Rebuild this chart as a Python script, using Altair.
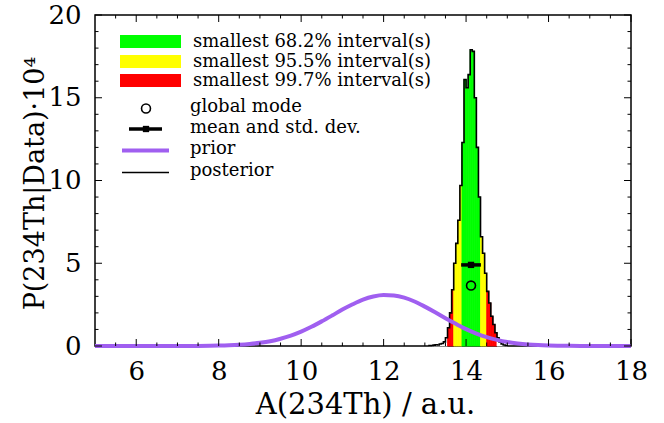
import altair as alt
import pandas as pd

# ---------------- data ----------------
# posterior histogram (bin lower edges, bin width 0.05, heights in units of 1e-4)
bin_lo = [13.10, 13.15, 13.20, 13.25, 13.30, 13.35, 13.40, 13.45, 13.50, 13.55,
          13.60, 13.65, 13.70, 13.75, 13.80, 13.85, 13.90, 13.95, 14.00, 14.05,
          14.10, 14.15, 14.20, 14.25, 14.30, 14.35, 14.40, 14.45, 14.50, 14.55,
          14.60, 14.65, 14.70, 14.75, 14.80, 14.85, 14.90, 14.95]
bin_width = 0.05
post_h = [0.02, 0.03, 0.05, 0.08, 0.06, 0.12, 0.15, 0.25, 0.5, 1.1,
          2.0, 3.4, 5.0, 6.2, 7.6, 9.7, 12.3, 16.1, 15.6, 16.4,
          17.9, 17.8, 15.0, 12.0, 9.0, 6.6, 5.6, 4.4, 3.3, 2.6,
          1.8, 1.3, 0.8, 0.5, 0.25, 0.12, 0.06, 0.03]

# smallest intervals (lower, upper)
int68 = (13.90, 14.35)
int95 = (13.70, 14.50)
int997 = (13.55, 14.75)

# prior
prior_x = [5.0, 5.5, 6.0, 6.5, 7.0, 7.5, 8.0, 8.25, 8.5, 8.75, 9.0, 9.25, 9.5, 9.75,
           10.0, 10.25, 10.5, 10.75, 11.0, 11.25, 11.5, 11.75, 12.0, 12.25, 12.5,
           12.75, 13.0, 13.25, 13.5, 13.75, 14.0, 14.25, 14.5, 14.75, 15.0, 15.25,
           15.5, 15.75, 16.0, 16.5, 17.0, 17.5, 18.0]
prior_y = [0.0, 0.0, 0.0, 0.0, 0.001, 0.006, 0.023, 0.041, 0.071, 0.118, 0.19, 0.29,
           0.44, 0.63, 0.87, 1.16, 1.49, 1.84, 2.20, 2.52, 2.80, 2.99, 3.08, 3.05,
           2.92, 2.69, 2.38, 2.04, 1.68, 1.34, 1.02, 0.75, 0.54, 0.37, 0.24, 0.155,
           0.095, 0.056, 0.032, 0.009, 0.002, 0.0, 0.0]

mean_val, std_val, mean_h = 14.12, 0.24, 4.9
mode_val, mode_h = 14.12, 3.65

x_major = [6, 8, 10, 12, 14, 16, 18]
x_minor = [5.5, 6.5, 7, 7.5, 8.5, 9, 9.5, 10.5, 11, 11.5, 12.5, 13, 13.5,
           14.5, 15, 15.5, 16.5, 17, 17.5]
y_major = [0, 5, 10, 15, 20]
y_minor = [1, 2, 3, 4, 6, 7, 8, 9, 11, 12, 13, 14, 16, 17, 18, 19]

legend_labels = ["smallest 68.2% interval(s)", "smallest 95.5% interval(s)",
                 "smallest 99.7% interval(s)", "global mode", "mean and std. dev.",
                 "prior", "posterior"]

GREEN, YELLOW, RED = "#00ff00", "#ffff00", "#ff0000"
PURPLE = "#a05ff0"
FONT = "DejaVu Serif"
W, H = 536, 331

# ---------------- tables ----------------
def band_of(lo):
    c = lo + bin_width / 2
    if int68[0] <= c <= int68[1]:
        return "68"
    if int95[0] <= c <= int95[1]:
        return "95"
    if int997[0] <= c <= int997[1]:
        return "99"
    return "out"

hist = pd.DataFrame({
    "lo": bin_lo,
    "hi": [b + bin_width for b in bin_lo],
    "h": post_h,
    "band": [band_of(b) for b in bin_lo],
})

step_x = [bin_lo[0]] + bin_lo + [bin_lo[-1] + bin_width]
step_y = [0.0] + post_h + [0.0]
step = pd.DataFrame({"x": step_x, "y": step_y, "i": list(range(len(step_x)))})

prior = pd.DataFrame({"x": prior_x, "y": prior_y})
stats = pd.DataFrame({"m": [mean_val], "lo": [mean_val - std_val],
                      "hi": [mean_val + std_val], "mh": [mean_h],
                      "mode": [mode_val], "modeh": [mode_h]})

xs = alt.Scale(domain=[5, 18], nice=False, zero=False)
ys = alt.Scale(domain=[0, 20], nice=False, zero=False)
band_scale = alt.Scale(domain=["68", "95", "99", "out"],
                       range=[GREEN, YELLOW, RED, "white"])

# ---------------- layers ----------------
bars = alt.Chart(hist).mark_bar(strokeWidth=0.8).encode(
    x=alt.X("lo:Q", scale=xs, axis=alt.Axis(
        title="A(234Th) / a.u.", values=x_major, format="d",
        ticks=False, tickSize=0, domain=False, grid=False,
        labelFontSize=26, labelPadding=12, labelFlush=False, labelOverlap=False,
        labelColor="black", titleFontSize=29, titleFontWeight="normal",
        titleColor="black", titleBaseline="alphabetic", titleY=67,
        titleX=W / 2 + 2, titleAlign="center")),
    x2="hi:Q",
    y=alt.Y("h:Q", scale=ys, axis=alt.Axis(
        title="P(234Th|Data)·10⁴", values=y_major, format="d",
        ticks=False, tickSize=0, domain=False, grid=False,
        labelFontSize=26, labelPadding=14, labelFlush=False, labelOverlap=False,
        labelColor="black", titleFontSize=27, titleFontWeight="normal",
        titleColor="black", titleAngle=270, titleBaseline="alphabetic",
        titleAlign="center", titleX=-52, titleY=168)),
    y2=alt.datum(0),
    color=alt.Color("band:N", legend=None, scale=band_scale),
    stroke=alt.Stroke("band:N", legend=None, scale=band_scale),
)

outline = alt.Chart(step).mark_line(interpolate="step-after", color="black",
                                    strokeWidth=1.6).encode(
    x=alt.X("x:Q", scale=xs), y=alt.Y("y:Q", scale=ys), order="i:Q")

prior_line = alt.Chart(prior).mark_line(color=PURPLE, strokeWidth=4,
                                        interpolate="monotone").encode(
    x=alt.X("x:Q", scale=xs), y=alt.Y("y:Q", scale=ys))

err = alt.Chart(stats).mark_rule(color="black", strokeWidth=3.5).encode(
    x=alt.X("lo:Q", scale=xs), x2="hi:Q", y=alt.Y("mh:Q", scale=ys))
mean_pt = alt.Chart(stats).mark_square(color="black", size=40, opacity=1).encode(
    x=alt.X("m:Q", scale=xs), y=alt.Y("mh:Q", scale=ys))
mode_pt = alt.Chart(stats).mark_point(shape="circle", filled=False, color="black",
                                      strokeWidth=1.6, size=80, opacity=1).encode(
    x=alt.X("mode:Q", scale=xs), y=alt.Y("modeh:Q", scale=ys))

# inward ticks on all four sides
def xticks(vals, length):
    d = pd.DataFrame({"v": vals})
    b = alt.Chart(d).mark_rule(color="black", strokeWidth=1).encode(
        x=alt.X("v:Q", scale=xs), y=alt.value(H), y2=alt.value(H - length))
    t = alt.Chart(d).mark_rule(color="black", strokeWidth=1).encode(
        x=alt.X("v:Q", scale=xs), y=alt.value(0), y2=alt.value(length))
    return [b, t]

def yticks(vals, length):
    d = pd.DataFrame({"v": vals})
    l = alt.Chart(d).mark_rule(color="black", strokeWidth=1).encode(
        y=alt.Y("v:Q", scale=ys), x=alt.value(0), x2=alt.value(length))
    r = alt.Chart(d).mark_rule(color="black", strokeWidth=1).encode(
        y=alt.Y("v:Q", scale=ys), x=alt.value(W), x2=alt.value(W - length))
    return [l, r]

tick_layers = (xticks(x_major, 7) + xticks(x_minor, 3.5)
               + yticks(y_major, 7) + yticks(y_minor, 3.5))

# custom legend (pixel placement inside the plot area)
one = pd.DataFrame({"a": [0]})
leg = []
for col, yy in zip([GREEN, YELLOW, RED], [20, 40, 59]):
    leg.append(alt.Chart(one).mark_rect(color=col).encode(
        x=alt.value(25), x2=alt.value(86), y=alt.value(yy), y2=alt.value(yy + 13)))
text_pos = [(98, 26.5), (98, 46.5), (98, 65.5), (95, 92), (95, 113), (95, 134), (95, 156)]
for lab, (tx, ty) in zip(legend_labels, text_pos):
    leg.append(alt.Chart(one).mark_text(align="left", baseline="middle", fontSize=18,
                                        font=FONT, color="black").encode(
        x=alt.value(tx), y=alt.value(ty), text=alt.value(lab)))
leg.append(alt.Chart(one).mark_point(shape="circle", filled=False, color="black",
                                     strokeWidth=1.6, size=80, opacity=1).encode(
    x=alt.value(51), y=alt.value(93.5)))
leg.append(alt.Chart(one).mark_rule(color="black", strokeWidth=3.5).encode(
    x=alt.value(34), x2=alt.value(67), y=alt.value(114)))
leg.append(alt.Chart(one).mark_square(color="black", size=40, opacity=1).encode(
    x=alt.value(51), y=alt.value(114)))
leg.append(alt.Chart(one).mark_rule(color=PURPLE, strokeWidth=4).encode(
    x=alt.value(27), x2=alt.value(74), y=alt.value(135.5)))
leg.append(alt.Chart(one).mark_rule(color="black", strokeWidth=1.5).encode(
    x=alt.value(27), x2=alt.value(74), y=alt.value(157.5)))

chart = alt.layer(
    bars, outline, prior_line, err, mean_pt, mode_pt, *tick_layers, *leg
).properties(
    width=W, height=H,
    autosize=alt.AutoSizeParams(type="none"),
    padding={"left": 95, "top": 15, "right": 33, "bottom": 77},
).configure(
    font=FONT, background="white",
).configure_view(
    stroke="black", strokeWidth=1.5,
).configure_axis(
    labelFont=FONT, titleFont=FONT,
)

chart.save("out.html", embed_options={"renderer": "svg", "actions": False})
